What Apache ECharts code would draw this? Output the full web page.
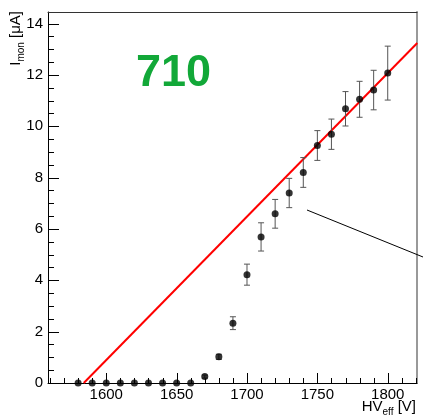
<!DOCTYPE html>
<html>
<head>
<meta charset="utf-8">
<script src="https://cdn.jsdelivr.net/npm/echarts@6/dist/echarts.min.js"></script>
<style>
html,body{margin:0;padding:0;background:#fff;}
#chart{width:423px;height:417px;}
</style>
</head>
<body>
<div id="chart"></div>
<script>
// ---- data ----
const hvEff = [1580,1590,1600,1610,1620,1630,1640,1650,1660,1670,1680,1690,1700,1710,1720,1730,1740,1750,1760,1770,1780,1790,1800];
const iMon  = [0,0,0,0,0,0,0,0,0,0.25,1.02,2.33,4.22,5.69,6.59,7.40,8.20,9.25,9.69,10.68,11.05,11.41,12.07];
const iErr  = [0,0,0,0,0,0,0,0,0,0.06,0.10,0.25,0.41,0.55,0.56,0.57,0.58,0.58,0.59,0.67,0.70,0.77,1.05];
const fitX  = [1584, 1821];
const fitY  = [0, 13.24];
const xTickLabels = [1600,1650,1700,1750,1800];
const yTickLabels = [0,2,4,6,8,10,12,14];
const xRange = [1558.6, 1820.8];
const yRange = [0, 14.45];
const labelText = '710';

const xMinor = [];
for (let v = 1560; v <= 1820; v += 10) xMinor.push(v);
const yMinor = [];
for (let v = 0; v <= 14.4; v += 0.5) yMinor.push(v);

const FONT = "'Liberation Sans', Arial, Helvetica, sans-serif";
const points = hvEff.map((x, i) => [x, iMon[i]]);
const errData = hvEff.map((x, i) => [x, iMon[i], iErr[i]]);
const fitData = fitX.map((x, i) => [x, fitY[i]]);

const chart = echarts.init(document.getElementById('chart'), null, {renderer: 'canvas'});
const noTick = {show: false};
const option = {
  animation: false,
  backgroundColor: '#fff',
  grid: {left: 48, right: 6, top: 12, bottom: 34, containLabel: false},
  xAxis: [
    {type: 'value', position: 'bottom', min: xRange[0], max: xRange[1],
     axisLine: {show: true, onZero: false, lineStyle: {color: '#000', width: 1}},
     axisTick: noTick,
     axisLabel: {show: true, customValues: xTickLabels, margin: 4, color: '#000', fontSize: 15, fontFamily: FONT,
                 formatter: v => String(v)},
     splitLine: {show: false}},
    {type: 'value', position: 'top', min: xRange[0], max: xRange[1],
     axisLine: {show: true, onZero: false, lineStyle: {color: '#333', width: 1}},
     axisTick: noTick, axisLabel: {show: false}, splitLine: {show: false}}
  ],
  yAxis: [
    {type: 'value', position: 'left', min: yRange[0], max: yRange[1],
     axisLine: {show: true, onZero: false, lineStyle: {color: '#000', width: 1}},
     axisTick: noTick,
     axisLabel: {show: true, customValues: yTickLabels, margin: 5, color: '#000', fontSize: 15, fontFamily: FONT,
                 formatter: v => String(v)},
     splitLine: {show: false}},
    {type: 'value', position: 'right', min: yRange[0], max: yRange[1],
     axisLine: {show: true, onZero: false, lineStyle: {color: '#999', width: 2}},
     axisTick: noTick, axisLabel: {show: false}, splitLine: {show: false}}
  ],
  series: [
    // tick marks drawn through the axis scales
    {type: 'custom', xAxisIndex: 0, yAxisIndex: 0, data: [[xRange[0], yRange[0]]], clip: false, z: 2,
     silent: true,
     renderItem: function (params, api) {
       const ch = [];
       const st = {stroke: '#000', lineWidth: 1};
       const y0 = api.coord([xRange[0], yRange[0]])[1];
       const x0 = api.coord([xRange[0], yRange[0]])[0];
       xMinor.forEach(v => {
         const px = Math.round(api.coord([v, 0])[0]) + 0.5;
         const len = xTickLabels.indexOf(v) >= 0 ? 10 : 5;
         ch.push({type: 'line', shape: {x1: px, y1: y0, x2: px, y2: y0 - len}, style: st});
       });
       yMinor.forEach(v => {
         const py = Math.round(api.coord([xRange[0], v])[1]) + 0.5;
         const len = yTickLabels.indexOf(v) >= 0 ? 11 : 6;
         ch.push({type: 'line', shape: {x1: x0, y1: py, x2: x0 + len, y2: py}, style: st});
       });
       return {type: 'group', children: ch};
     }},
    {type: 'line', data: fitData, xAxisIndex: 0, yAxisIndex: 0, showSymbol: false, symbol: 'none',
     lineStyle: {color: '#ff0000', width: 2}, clip: true, z: 3},
    {type: 'custom', xAxisIndex: 0, yAxisIndex: 0, data: errData, clip: false, z: 4,
     renderItem: function (params, api) {
       const x = api.value(0), y = api.value(1), e = api.value(2);
       if (!(e > 0)) return null;
       const top = api.coord([x, y + e]);
       const bot = api.coord([x, y - e]);
       const hw = 3;
       const st = {stroke: '#555', lineWidth: 1};
       return {type: 'group', children: [
         {type: 'line', shape: {x1: top[0], y1: top[1], x2: bot[0], y2: bot[1]}, style: st},
         {type: 'line', shape: {x1: top[0] - hw, y1: top[1], x2: top[0] + hw, y2: top[1]}, style: st},
         {type: 'line', shape: {x1: bot[0] - hw, y1: bot[1], x2: bot[0] + hw, y2: bot[1]}, style: st}
       ]};
     }},
    {type: 'scatter', data: points, xAxisIndex: 0, yAxisIndex: 0, symbol: 'circle', symbolSize: 7,
     itemStyle: {color: '#000'}, clip: false, z: 5}
  ],
  graphic: [
    {type: 'line', shape: {x1: 307, y1: 210, x2: 423, y2: 257}, style: {stroke: '#000', lineWidth: 1}, z: 10},
    {type: 'text', left: 136, top: 51, z: 10,
     style: {text: labelText, fill: '#12a838', font: "bold 45px " + FONT}},
    {type: 'text', x: 14, y: 11, rotation: Math.PI / 2, z: 10,
     style: {text: '{a|I}{s|mon}{a| [μA]}', align: 'right', verticalAlign: 'middle',
       rich: {a: {fontSize: 15, fontFamily: FONT, fill: '#000', lineHeight: 18, verticalAlign: 'bottom'},
              s: {fontSize: 10, fontFamily: FONT, fill: '#000', lineHeight: 10, verticalAlign: 'bottom', padding: [0,0,-3,0]}}}},
    {type: 'text', x: 416, y: 414, z: 10,
     style: {text: '{a|HV}{s|eff}{a| [V]}', align: 'right', verticalAlign: 'bottom',
       rich: {a: {fontSize: 15, fontFamily: FONT, fill: '#000', lineHeight: 18, verticalAlign: 'bottom'},
              s: {fontSize: 10, fontFamily: FONT, fill: '#000', lineHeight: 10, verticalAlign: 'bottom', padding: [0,0,-3,0]}}}}
  ]
};
chart.setOption(option);
</script>
</body>
</html>
